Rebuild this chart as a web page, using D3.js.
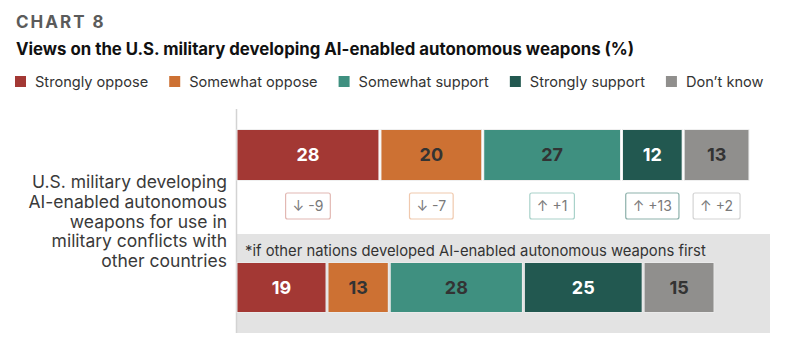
<!DOCTYPE html>
<html>
<head>
<meta charset="utf-8">
<script src="https://cdn.jsdelivr.net/npm/d3@7"></script>
<style>
  body { margin: 0; background: #fff; }
  text { font-family: Inter, "Noto Sans", sans-serif; }
</style>
</head>
<body>
<div id="chart"></div>
<script>
const categories = ["Strongly oppose", "Somewhat oppose", "Somewhat support", "Strongly support", "Don’t know"];
const baseValues = [28, 20, 27, 12, 13];
const changes = [-9, -7, 1, 13, 2];
const firstValues = [19, 13, 28, 25, 15];
const colors = ["#a33834", "#cd7133", "#3f9080", "#225850", "#908f8d"];
const boxBorders = ["#e2b8b3", "#f0c9ae", "#a9d2ca", "#8db1ab", "#d4d4d4"];
const labelColors = ["#fff", "#333", "#333", "#fff", "#333"];
const rowLabel = ["U.S. military developing", "AI-enabled autonomous", "weapons for use in", "military conflicts with", "other countries"];
const note = "*if other nations developed AI-enabled autonomous weapons first";

const width = 790, height = 352;
const svg = d3.select("#chart").append("svg")
    .attr("width", width)
    .attr("height", height);

// titles
svg.append("text")
    .attr("x", 16).attr("y", 28)
    .style("font-size", "17px")
    .style("font-weight", "bold")
    .style("letter-spacing", "2px")
    .style("fill", "#5b5b5b")
    .text("CHART 8");

svg.append("text")
    .attr("x", 16).attr("y", 55)
    .style("font-size", "16.8px")
    .style("font-weight", "bold")
    .style("fill", "#111")
    .text("Views on the U.S. military developing AI-enabled autonomous weapons (%)");

// legend
const legend = svg.append("g").attr("transform", "translate(15, 76)");
let lx = 0;
categories.forEach((c, i) => {
    const g = legend.append("g").attr("transform", `translate(${lx}, 0)`);
    g.append("rect")
        .attr("width", 11).attr("height", 11)
        .attr("fill", colors[i]);
    const t = g.append("text")
        .attr("x", 20).attr("y", 11)
        .style("font-size", "14.6px")
        .style("fill", "#333")
        .text(c);
    lx += 20 + t.node().getComputedTextLength() + 21;
});

// grey panel for the conditional question
svg.append("rect")
    .attr("x", 236).attr("y", 234)
    .attr("width", 534).attr("height", 99)
    .attr("fill", "#e3e3e3");

// left axis line
svg.append("line")
    .attr("x1", 236.5).attr("x2", 236.5)
    .attr("y1", 109).attr("y2", 333)
    .attr("stroke", "#d3d3d3")
    .attr("stroke-width", 1.5);

// row label
svg.append("text")
    .attr("text-anchor", "end")
    .style("font-size", "17.5px")
    .style("fill", "#3a3a3a")
    .selectAll("tspan")
    .data(rowLabel)
    .enter()
    .append("tspan")
    .attr("x", 227)
    .attr("y", (d, i) => 188 + i * 19.8)
    .text(d => d);

function stackOf(values) {
    let acc = 0;
    return values.map((v, i) => {
        const s = { key: categories[i], value: v, x0: acc, x1: acc + v, i: i };
        acc += v;
        return s;
    });
}

function drawBar(values, x, y0, h) {
    const data = stackOf(values);
    const g = svg.append("g");
    g.selectAll("rect.outline")
        .data(data)
        .enter()
        .append("rect")
        .attr("x", d => x(d.x0) + 1)
        .attr("y", y0 - 0.5)
        .attr("width", d => x(d.x1) - x(d.x0) - 2)
        .attr("height", h + 1)
        .attr("fill", "none")
        .attr("stroke", "#ececec")
        .attr("stroke-width", 0.8);
    g.selectAll("rect.seg")
        .data(data)
        .enter()
        .append("rect")
        .attr("class", "seg")
        .attr("x", d => x(d.x0) + 1.5)
        .attr("y", y0)
        .attr("width", d => x(d.x1) - x(d.x0) - 3)
        .attr("height", h)
        .attr("fill", d => colors[d.i]);
    g.selectAll("text")
        .data(data)
        .enter()
        .append("text")
        .attr("x", d => (x(d.x0) + x(d.x1)) / 2)
        .attr("y", y0 + h / 2)
        .attr("dy", "0.36em")
        .attr("text-anchor", "middle")
        .style("font-size", "18px")
        .style("font-weight", "bold")
        .style("fill", d => labelColors[d.i])
        .text(d => d.value);
    return data;
}

// top bar (overall)
const xTop = d3.scaleLinear().domain([0, 100]).range([236, 750]);
const topData = drawBar(baseValues, xTop, 130, 50);

// change boxes
const boxes = svg.append("g").selectAll("g")
    .data(topData)
    .enter()
    .append("g")
    .attr("transform", d => `translate(${(xTop(d.x0) + xTop(d.x1)) / 2}, 206)`);

boxes.append("text")
    .attr("text-anchor", "middle")
    .attr("dy", "0.36em")
    .style("font-size", "14px")
    .style("fill", "#7a7a7a")
    .text(d => {
        const c = changes[d.i];
        return c < 0 ? `↓ ${c}` : `↑ +${c}`;
    });

boxes.each(function(d) {
    const t = d3.select(this).select("text").node();
    const w = t.getComputedTextLength() + 14;
    d3.select(this).insert("rect", "text")
        .attr("x", -w / 2).attr("y", -13)
        .attr("width", w).attr("height", 26)
        .attr("rx", 2)
        .attr("fill", "#fff")
        .attr("stroke", boxBorders[d.i])
        .attr("stroke-width", 1.2);
});

// note + conditional bar
svg.append("text")
    .attr("x", 245).attr("y", 256)
    .style("font-size", "14.8px")
    .style("fill", "#333")
    .text(note);

const xFirst = d3.scaleLinear().domain([0, 100]).range([236, 715]);
drawBar(firstValues, xFirst, 263, 49);
</script>
</body>
</html>
